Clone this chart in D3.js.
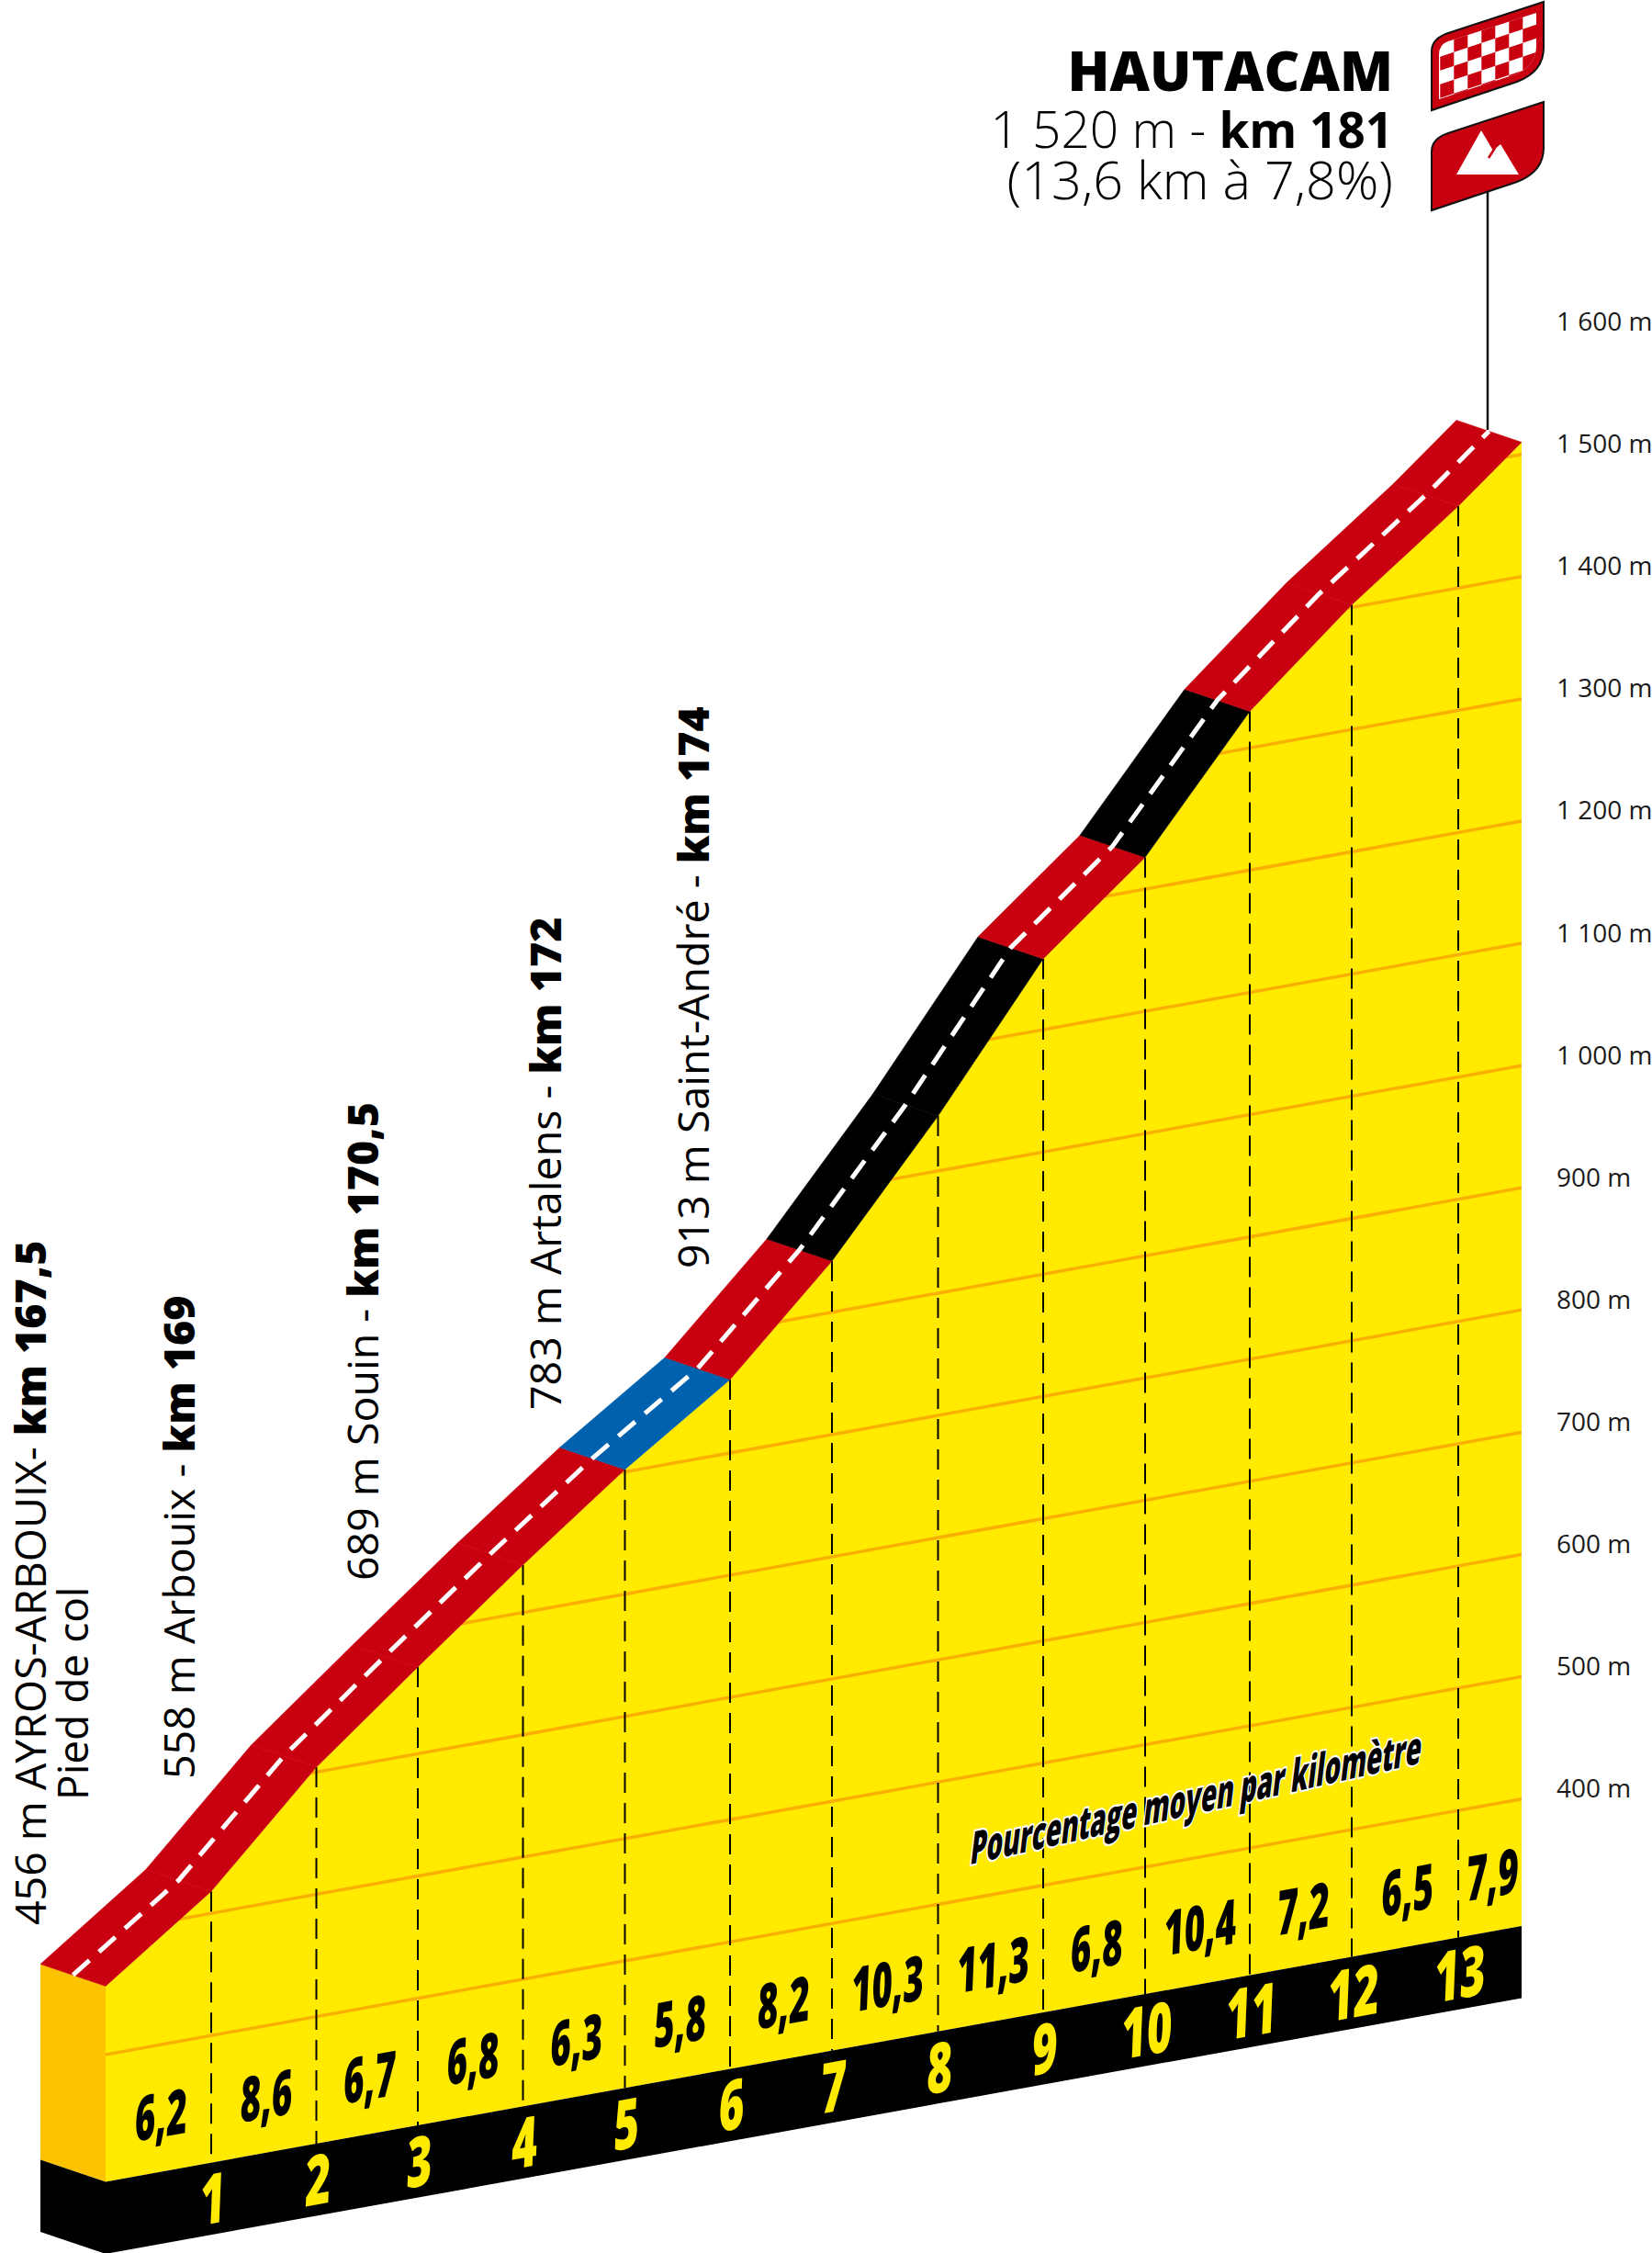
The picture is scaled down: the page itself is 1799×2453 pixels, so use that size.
<!DOCTYPE html>
<html>
<head>
<meta charset="utf-8">
<script src="https://cdn.jsdelivr.net/npm/d3@7"></script>
<style>
  body { margin: 0; background: #fff; }
  svg { display: block; }
  text { font-family: "Open Sans", sans-serif; fill: #000; }
</style>
</head>
<body>
<svg id="chart" width="1799" height="2453"></svg>
<script>
// profile, one point per km marker
const kmMarks = [0, 1, 2, 3, 4, 5, 6, 7, 8, 9, 10, 11, 12, 13, 13.6];
const elevations = [456, 518, 604, 671, 739, 802, 860, 942, 1045, 1158, 1226, 1330, 1402, 1467, 1510];
const gradients = [6.2, 8.6, 6.7, 6.8, 6.3, 5.8, 8.2, 10.3, 11.3, 6.8, 10.4, 7.2, 6.5, 7.9];
const kmLabels = [1, 2, 3, 4, 5, 6, 7, 8, 9, 10, 11, 12, 13];
const altTicks = [400, 500, 600, 700, 800, 900, 1000, 1100, 1200, 1300, 1400, 1500, 1600];
const gridAlts = [400, 500, 600, 700, 800, 900, 1000, 1100, 1200, 1300, 1400, 1500];

// the places named along the climb
const placeText = ["456 m AYROS-ARBOUIX- ", "558 m Arbouix - ", "689 m Souin - ", "783 m Artalens - ", "913 m Saint-André - "];
const placeKm = ["km 167,5", "km 169", "km 170,5", "km 172", "km 174"];

const RED = "#c8000f", BLUE = "#0061ae", BLACK = "#000", YELLOW = "#ffea00", SIDE = "#fdc300", GRID = "#f9b000";

// the km marks are not quite evenly spaced in the drawing
const x = d3.scaleLinear().domain(kmMarks)
  .range([115, 230, 344.5, 455, 569.5, 680.5, 795, 906, 1021.5, 1136, 1247, 1361, 1472, 1588, 1657]);
const y = d3.scaleLinear().domain([400, 1600]).range([2237, 640]);
const shear = -0.1805;
const baseAlt = 296;   // top of the black band
const bandAlt = 237;   // bottom of the black band
const sideDx = -71, sideDy = -24;

function px(km) { return x(km); }
function py(km, alt) { return y(alt) + shear * (x(km) - x(0)); }

const svg = d3.select("#chart");
const line = d3.line();
const front = kmMarks.map((k, i) => [px(k), py(k, elevations[i])]);
const endKm = kmMarks[kmMarks.length - 1];

function roadColor(g) {
  if (g >= 10) return BLACK;
  if (g < 6) return BLUE;
  return RED;
}

// yellow face
const facePts = front.concat([[px(endKm), py(endKm, baseAlt)], [px(0), py(0, baseAlt)]]);
svg.append("defs").append("clipPath").attr("id", "faceClip")
  .append("path").attr("d", line(facePts) + "Z");
svg.append("path").attr("d", line(facePts) + "Z").attr("fill", YELLOW);

// left side of the block
svg.append("path").attr("fill", SIDE).attr("d", line([
  front[0],
  [px(0), py(0, baseAlt)],
  [px(0) + sideDx, py(0, baseAlt) + sideDy],
  [px(0) + sideDx, front[0][1] + sideDy]
]) + "Z");
svg.append("path").attr("fill", BLACK).attr("d", line([
  [px(0), py(0, baseAlt)],
  [px(0), py(0, bandAlt)],
  [px(0) + sideDx, py(0, bandAlt) + sideDy],
  [px(0) + sideDx, py(0, baseAlt) + sideDy]
]) + "Z");

// black band at the bottom
svg.append("path").attr("fill", BLACK).attr("d", line([
  [px(0), py(0, baseAlt)],
  [px(endKm), py(endKm, baseAlt)],
  [px(endKm), py(endKm, bandAlt)],
  [px(0), py(0, bandAlt)]
]) + "Z");

// grid lines, leaning with the block
svg.append("g").attr("clip-path", "url(#faceClip)")
  .selectAll("line").data(gridAlts).join("line")
  .attr("x1", px(0)).attr("x2", px(endKm))
  .attr("y1", d => py(0, d)).attr("y2", d => py(endKm, d))
  .attr("stroke", GRID).attr("stroke-width", 3.5);

// km dashes
svg.append("g").selectAll("line").data(kmLabels).join("line")
  .attr("x1", d => px(d)).attr("x2", d => px(d))
  .attr("y1", d => py(d, elevations[d]))
  .attr("y2", d => py(d, baseAlt))
  .attr("stroke", "#000").attr("stroke-width", 2)
  .attr("stroke-dasharray", "22,11");

// road
svg.append("g").selectAll("path").data(gradients).join("path")
  .attr("d", (g, i) => line([
    front[i], front[i + 1],
    [front[i + 1][0] + sideDx, front[i + 1][1] + sideDy],
    [front[i][0] + sideDx, front[i][1] + sideDy]
  ]) + "Z")
  .attr("fill", roadColor)
  .attr("stroke", roadColor)
  .attr("stroke-width", 0.5);

svg.append("path")
  .attr("d", line(front.map(p => [p[0] + sideDx / 2, p[1] + sideDy / 2])))
  .attr("fill", "none")
  .attr("stroke", "#fff").attr("stroke-width", 5)
  .attr("stroke-dasharray", "24,14");

// gradient numbers
function slanted(sel) {
  return sel.attr("text-anchor", "middle")
    .attr("font-weight", 800)
    .attr("dy", "0.36em");
}
svg.append("g").selectAll("text").data(gradients).join("text")
  .text(d => String(d).replace(".", ","))
  .call(slanted)
  .attr("font-size", 68)
  .attr("transform", (d, i) => {
    const mx = (px(kmMarks[i]) + px(kmMarks[i + 1])) / 2 + 3;
    const my = py(kmMarks[i], baseAlt) + shear * (mx - px(kmMarks[i])) - 62;
    return `matrix(0.56,${0.56 * shear},-0.04,1,${mx},${my})`;
  });

// km numbers in the black band
svg.append("g").selectAll("text").data(kmLabels).join("text")
  .text(d => d)
  .call(slanted)
  .attr("font-size", 76)
  .style("fill", YELLOW)
  .attr("transform", d => {
    const mx = px(d) + 2;
    const my = py(d, baseAlt) + 39;
    return `matrix(0.62,${0.62 * shear},-0.04,1,${mx},${my})`;
  });

svg.append("text")
  .text("Pourcentage moyen par kilomètre")
  .attr("text-anchor", "middle")
  .attr("font-weight", 800)
  .attr("font-size", 50)
  .attr("stroke", "#fff").attr("stroke-width", 4.5)
  .attr("paint-order", "stroke")
  .attr("transform", `matrix(0.555,${0.555 * -0.225},-0.12,1,1301,1975)`);

// altitude labels
const labelScale = y.copy().range(y.range().map(v => v + shear * (x(endKm) - x(0)) - 11));
const axis = d3.axisRight(labelScale)
  .tickValues(altTicks)
  .tickSize(0)
  .tickPadding(0)
  .tickFormat(d => (d >= 1000 ? Math.floor(d / 1000) + " " + String(d % 1000).padStart(3, "0") : d) + " m");
const axisG = svg.append("g").attr("transform", "translate(1695,0)").call(axis);
axisG.select(".domain").remove();
axisG.selectAll("text")
  .attr("font-size", 28)
  .style("font-family", '"Open Sans", sans-serif')
  .style("fill", "#1a1a1a");

// place labels, written upwards
const placeX = [50, 212, 412, 611, 772];
const placeY = [2096, 1937, 1721, 1535, 1381];
const placeG = svg.append("g").selectAll("text").data(placeText).join("text")
  .attr("font-size", 46.5)
  .attr("transform", (d, i) => `translate(${placeX[i]},${placeY[i]}) rotate(-90)`);
placeG.append("tspan").text(d => d);
placeG.append("tspan").attr("font-weight", 800).text((d, i) => placeKm[i]);
svg.append("text")
  .text("Pied de col")
  .attr("font-size", 46)
  .attr("transform", "translate(96,1960) rotate(-90)");

// title block
svg.append("text").text("HAUTACAM")
  .attr("x", 1517).attr("y", 99)
  .attr("text-anchor", "end")
  .attr("font-size", 60).attr("font-weight", 800);
const sub = svg.append("text").attr("x", 1517).attr("y", 161)
  .attr("text-anchor", "end").attr("font-size", 55);
sub.append("tspan").text("1 520 m - ").attr("font-weight", 300);
sub.append("tspan").text("km 181").attr("font-weight", 700).attr("font-size", 53);
svg.append("text").text("(13,6 km à 7,8%)")
  .attr("x", 1517).attr("y", 217)
  .attr("text-anchor", "end").attr("font-size", 57.5).attr("font-weight", 300);

// summit flags and pole
svg.append("line").attr("x1", 1620).attr("x2", 1620).attr("y1", 205).attr("y2", 468)
  .attr("stroke", "#111").attr("stroke-width", 2.5);

const flagPath = "M1681,2 L1577,36 Q1559,42 1559,56 L1559,120 L1652,89 Q1681,78 1681,52 Z";
svg.append("path").attr("d", flagPath).attr("fill", RED).attr("stroke", "#111").attr("stroke-width", 2);
svg.append("path").attr("d", flagPath).attr("fill", RED).attr("stroke", "#111").attr("stroke-width", 2)
  .attr("transform", "translate(0,109)");

const innerPath = "M1673,14 L1577,45 Q1567,48 1567,60 L1567,108 L1650,81 Q1673,72 1673,50 Z";
const defs = svg.select("defs");
defs.append("clipPath").attr("id", "checkClip").append("path").attr("d", innerPath);
svg.append("path").attr("d", innerPath).attr("fill", "#fff");
const cells = [];
d3.range(0, 8).forEach(c => d3.range(-2, 5).forEach(r => {
  if ((c + r + 20) % 2 === 0) cells.push([c, r]);
}));
svg.append("g").attr("clip-path", "url(#checkClip)").selectAll("path").data(cells).join("path")
  .attr("fill", RED)
  .attr("d", ([c, r]) => {
    const cw = 15, ch = 15, x0 = 1568.3 + c * cw, y0 = 61.7 - c * 5 + r * ch;
    return line([[x0, y0], [x0 + cw, y0 - 5], [x0 + cw, y0 - 5 + ch], [x0, y0 + ch]]) + "Z";
  });

// mountain on the lower flag
svg.append("path").attr("fill", "#fff")
  .attr("d", "M1586,190 L1613,142 L1626,164 L1634,157 L1654,190 Z");
svg.append("path").attr("fill", "none").attr("stroke", RED).attr("stroke-width", 2.5)
  .attr("d", "M1621,172 L1628,161");
</script>
</body>
</html>
